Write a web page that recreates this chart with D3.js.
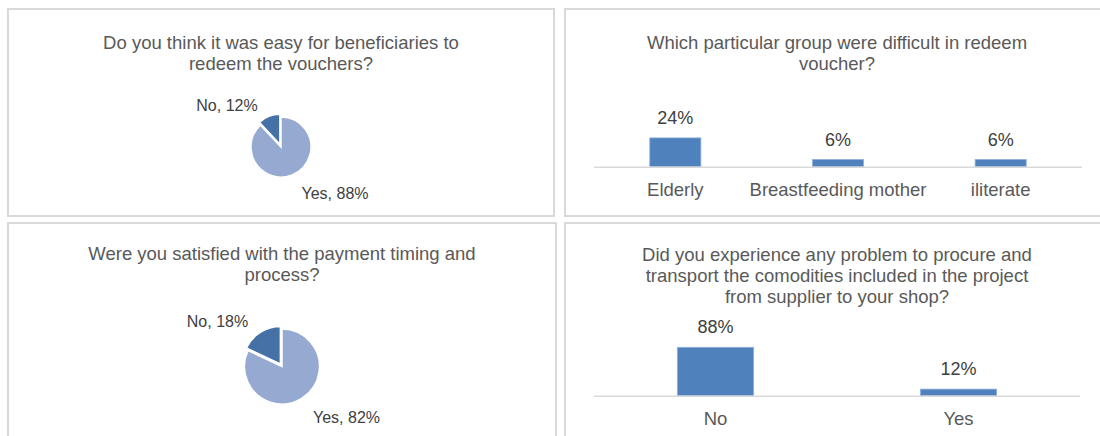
<!DOCTYPE html>
<html>
<head>
<meta charset="utf-8">
<script src="https://cdn.jsdelivr.net/npm/d3@7"></script>
<style>
  html, body { margin: 0; padding: 0; background: #ffffff; }
  svg { display: block; }
  text { font-family: "Liberation Sans", Arial, sans-serif; }
</style>
</head>
<body>
<svg id="chart" width="1100" height="436"></svg>
<script>
// ---------- Data ----------
const pie1Title = ["Do you think it was easy for beneficiaries to", "redeem the vouchers?"];
const pie1Labels = ["Yes", "No"];
const pie1Values = [0.88, 0.12];

const bar1Title = ["Which particular group were difficult in redeem", "voucher?"];
const bar1Categories = ["Elderly", "Breastfeeding mother", "iliterate"];
const bar1Values = [0.24, 0.06, 0.06];

const pie2Title = ["Were you satisfied with the payment timing and", "process?"];
const pie2Labels = ["Yes", "No"];
const pie2Values = [0.82, 0.18];

const bar2Title = ["Did you experience any problem to procure and", "transport the comodities included in the project", "from supplier to your shop?"];
const bar2Categories = ["No", "Yes"];
const bar2Values = [0.88, 0.12];

// ---------- Styles ----------
const titleColor = "#595959";
const labelColor = "#404040";
const borderColor = "#d9d9d9";
const barColor = "#4f81bd";
const pieColors = { Yes: "#95a9d1", No: "#4571a7" };
const pct = d3.format(".0%");

const svg = d3.select("#chart");

function panel(x0, y0, x1, y1) {
  svg.append("rect")
    .attr("x", x0).attr("y", y0)
    .attr("width", x1 - x0).attr("height", y1 - y0)
    .attr("fill", "#ffffff")
    .attr("stroke", borderColor)
    .attr("stroke-width", 2);
}

function title(lines, cx, y0) {
  const t = svg.append("text")
    .attr("text-anchor", "middle")
    .attr("fill", titleColor)
    .style("font-size", "18.5px");
  lines.forEach((l, i) => {
    t.append("tspan").attr("x", cx).attr("y", y0 + i * 21).text(l);
  });
}

function pieChart(labels, values, cx, cy, r, lblDx, lblDyNo, lblDyYes) {
  const data = labels.map((l, i) => ({ label: l, value: values[i] }));
  const pie = d3.pie().sort(null).value(d => d.value);
  const arcs = pie(data);
  const arc = d3.arc().innerRadius(0).outerRadius(r);
  const g = svg.append("g").attr("transform", `translate(${cx},${cy})`);
  const explode = 3;
  g.selectAll("path").data(arcs).join("path")
    .attr("d", arc)
    .attr("transform", d => {
      if (d.data.label !== "No") return null;
      const a = (d.startAngle + d.endAngle) / 2;
      return `translate(${Math.sin(a) * explode},${-Math.cos(a) * explode})`;
    })
    .attr("fill", d => pieColors[d.data.label])
    .attr("stroke", "#ffffff")
    .attr("stroke-width", 1.5)
    .attr("stroke-linejoin", "miter");
  g.selectAll("text").data(arcs).join("text")
    .attr("text-anchor", "middle")
    .attr("fill", labelColor)
    .style("font-size", "16px")
    .attr("x", d => d.data.label === "No" ? -(r + lblDx) : (r + lblDx))
    .attr("y", d => d.data.label === "No" ? -(r + lblDyNo) + 5.5 : (r + lblDyYes) + 5.5)
    .text(d => `${d.data.label}, ${pct(d.data.value)}`);
}

function barChart(categories, values, x0, x1, base, yMax, pxHeight) {
  const x = d3.scaleBand().domain(categories).range([x0, x1])
    .paddingInner(0.686).paddingOuter(0.343);
  const y = d3.scaleLinear().domain([0, yMax]).range([base, base - pxHeight]);
  const data = categories.map((c, i) => ({ c, v: values[i] }));
  svg.append("g").selectAll("rect").data(data).join("rect")
    .attr("x", d => x(d.c))
    .attr("y", d => y(d.v))
    .attr("width", x.bandwidth())
    .attr("height", d => base - y(d.v))
    .attr("fill", barColor)
    .attr("stroke", "#8eb0de")
    .attr("stroke-width", 0.8);
  svg.append("line")
    .attr("x1", x0).attr("x2", x1)
    .attr("y1", base + 0.5).attr("y2", base + 0.5)
    .attr("stroke", borderColor).attr("stroke-width", 1.5);
  svg.append("g").selectAll("text").data(data).join("text")
    .attr("text-anchor", "middle")
    .attr("fill", labelColor)
    .style("font-size", "18px")
    .attr("x", d => x(d.c) + x.bandwidth() / 2)
    .attr("y", d => y(d.v) - 14)
    .text(d => pct(d.v));
  svg.append("g").selectAll("text").data(data).join("text")
    .attr("text-anchor", "middle")
    .attr("fill", titleColor)
    .style("font-size", "18.5px")
    .attr("x", d => x(d.c) + x.bandwidth() / 2)
    .attr("y", base + 29)
    .text(d => d.c);
}

// ---------- Panels ----------
panel(8, 9, 554, 216);
panel(565, 9, 1108, 216);
panel(8, 223, 556, 445);
panel(565, 223, 1108, 445);

// Top-left pie
title(pie1Title, 281, 49);
pieChart(pie1Labels, pie1Values, 281, 147, 30, 24, 12, 16);

// Top-right bars
title(bar1Title, 837, 49);
barChart(bar1Categories, bar1Values, 594, 1082, 166.7, 0.3, 36);

// Bottom-left pie
title(pie2Title, 282, 260);
pieChart(pie2Labels, pie2Values, 282, 366.5, 37.5, 27, 8, 13);

// Bottom-right bars
title(bar2Title, 837, 261);
barChart(bar2Categories, bar2Values, 594, 1080, 395.7, 1, 55);
</script>
</body>
</html>
